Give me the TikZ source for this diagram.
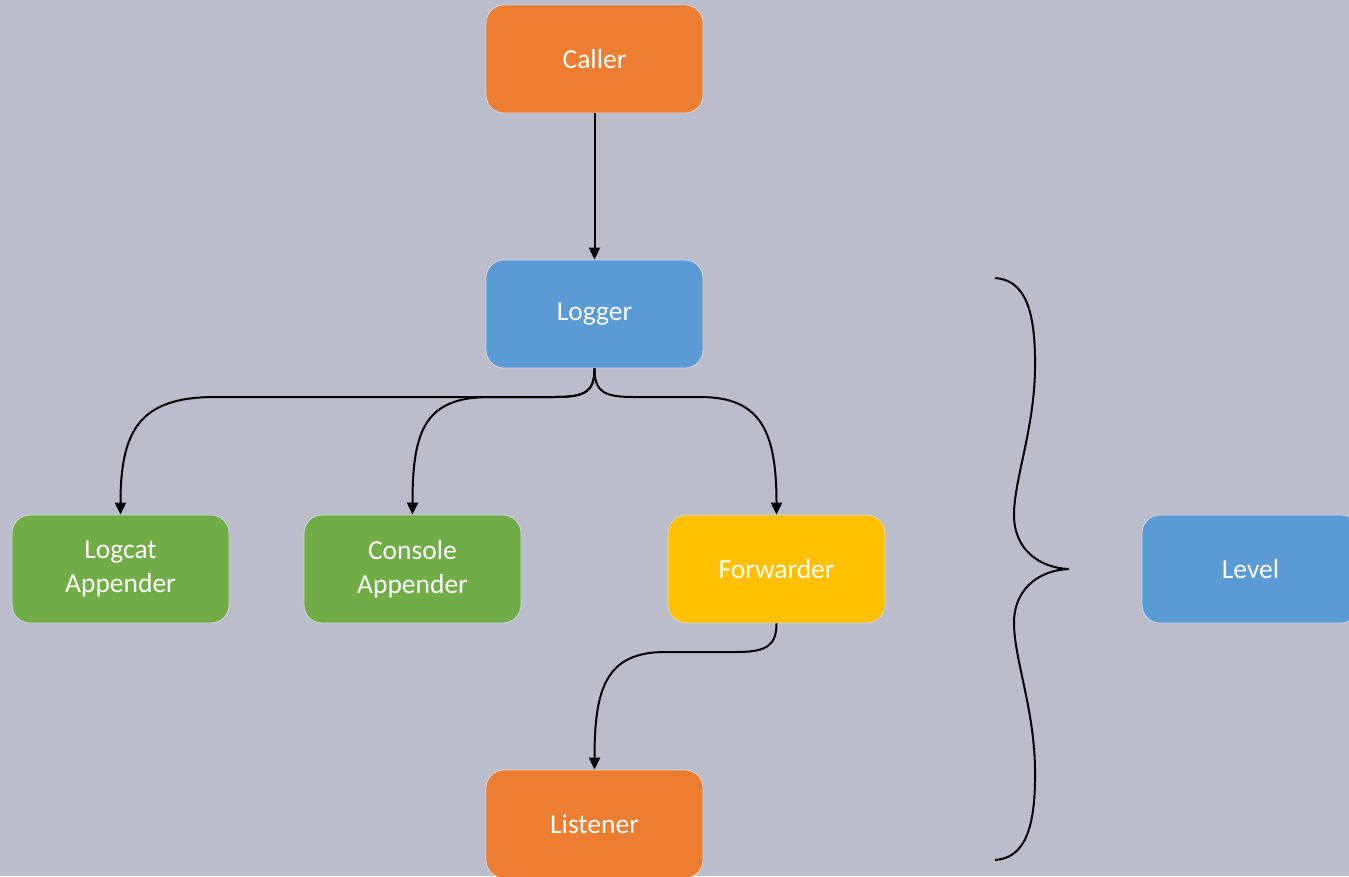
\documentclass[tikz,border=0pt]{standalone}
\usepackage{fontspec}
\setmainfont{Carlito}
\usetikzlibrary{arrows.meta}
\definecolor{bg}{HTML}{BBBDCB}
\definecolor{orangebox}{HTML}{ED7D31}
\definecolor{bluebox}{HTML}{5B9BD5}
\definecolor{greenbox}{HTML}{70AD47}
\definecolor{yellowbox}{HTML}{FFC000}
\definecolor{boxedge}{HTML}{D3D6E2}
\tikzset{
  box/.style={rounded corners=18pt, minimum width=217pt, minimum height=108pt,
    draw=boxedge, line width=0.8pt, text=white, align=center,
    font=\fontsize{27.5}{34}\selectfont, inner sep=0pt},
  link/.style={draw=black, line width=2pt,
    -{Triangle[length=12pt,width=11pt]}},
  brace/.style={draw=black, line width=2pt}
}
\begin{document}
\begin{tikzpicture}[x=1pt,y=-1pt]
  \clip (0,0) rectangle (1349,876);
  \fill[bg] (0,0) rectangle (1349,876);

  % boxes
  \node[box, fill=orangebox] (caller)    at (594.5,59)  {Caller};
  \node[box, fill=bluebox]   (logger)    at (594.5,314) {Logger};
  \node[box, fill=greenbox]  (logcat)    at (120.5,569) {Logcat\\Appender};
  \node[box, fill=greenbox]  (console)   at (412.5,569) {Console\\Appender};
  \node[box, fill=yellowbox] (forwarder) at (776.5,569) {Forwarder};
  \node[box, fill=bluebox]   (level)     at (1250.5,569) {Level};
  \node[box, fill=orangebox] (listener)  at (594.5,824) {Listener};

  % connectors
  \draw[link] (caller.south) -- (logger.north);
  \draw[link] (logger.south) .. controls (594.5,392) and (585,397) .. (555,397)
     -- (215,397) .. controls (140,397) and (120.5,430) .. (logcat.north);
  \draw[link] (logger.south) .. controls (594.5,392) and (585,397) .. (555,397)
     -- (490,397) .. controls (425,397) and (412.5,430) .. (console.north);
  \draw[link] (logger.south) .. controls (594.5,392) and (604,397) .. (634,397)
     -- (700,397) .. controls (760,397) and (776.5,430) .. (forwarder.north);
  \draw[link] (forwarder.south) .. controls (776.5,645) and (767,652) .. (737,652)
     -- (665,652) .. controls (605,652) and (594.5,690) .. (listener.north);

  % curly brace grouping the chain
  \coordinate (bracetip) at (1069,569);
  \draw[brace] (995,278) .. controls (1025,280) and (1036,310) .. (1035,370)
     .. controls (1034,430) and (1014,480) .. (1014,515)
     .. controls (1014,550) and (1040,568) .. (bracetip)
     .. controls (1040,570) and (1014,588) .. (1014,623)
     .. controls (1014,658) and (1034,708) .. (1035,768)
     .. controls (1036,828) and (1025,858) .. (995,860);
\end{tikzpicture}
\end{document}
